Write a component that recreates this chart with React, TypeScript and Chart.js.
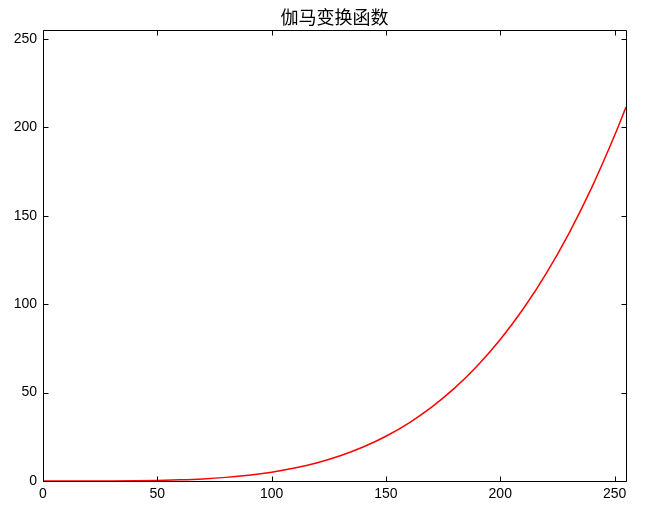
import React, { useEffect, useRef } from "react";
import { Chart, registerables } from "chart.js";

Chart.register(...registerables);

const TITLE = "伽马变换函数";
const xValues = [0, 10, 20, 30, 40, 50, 60, 70, 80, 90, 100, 110, 120, 130, 140, 150, 160, 170, 180, 190, 200, 210, 220, 230, 240, 250, 255];
const yValues = [0, 0, 0.01, 0.04, 0.13, 0.31, 0.65, 1.2, 2.05, 3.28, 5.0, 7.32, 10.37, 14.28, 19.21, 25.31, 32.77, 41.76, 52.49, 65.16, 80.0, 97.24, 117.13, 139.92, 165.89, 195.31, 211.4];
const xTicks = [0, 50, 100, 150, 200, 250];
const yTicks = [0, 50, 100, 150, 200, 250];
const X_MAX = 255;
const Y_MAX = 255;

const TICK_FONT = { family: "'Liberation Sans', Arial, sans-serif", size: 14 };

const framePlugin = {
  id: "framePlugin",
  afterDraw(chart: any) {
    const { ctx, chartArea } = chart;
    const { left, right, top, bottom } = chartArea;
    const xs = chart.scales.x;
    const ys = chart.scales.y;
    ctx.save();
    ctx.strokeStyle = "#000";
    ctx.lineWidth = 1;
    ctx.beginPath();
    const L = Math.round(left) + 0.5;
    const R = Math.round(right) + 0.5;
    const T = Math.round(top) + 0.5;
    const B = Math.round(bottom) + 0.5;
    ctx.rect(L, T, R - L, B - T);
    const len = 5;
    xTicks.forEach((v) => {
      const px = Math.round(xs.getPixelForValue(v)) + 0.5;
      ctx.moveTo(px, B);
      ctx.lineTo(px, B - len);
      ctx.moveTo(px, T);
      ctx.lineTo(px, T + len);
    });
    yTicks.forEach((v) => {
      const py = Math.round(ys.getPixelForValue(v)) + 0.5;
      ctx.moveTo(L, py);
      ctx.lineTo(L + len, py);
      ctx.moveTo(R, py);
      ctx.lineTo(R - len, py);
    });
    ctx.stroke();
    ctx.fillStyle = "#000";
    ctx.font = "18px 'Noto Sans CJK SC', sans-serif";
    ctx.textAlign = "center";
    ctx.textBaseline = "middle";
    ctx.fillText(TITLE, (left + right) / 2, 17);
    ctx.restore();
  },
};

export default function App() {
  const ref = useRef<HTMLCanvasElement>(null);
  useEffect(() => {
    if (!ref.current) return;
    const chart = new Chart(ref.current, {
      type: "line",
      data: {
        datasets: [
          {
            data: xValues.map((x, i) => ({ x, y: yValues[i] })),
            borderColor: "#ff0000",
            borderWidth: 1.5,
            pointRadius: 0,
            fill: false,
            cubicInterpolationMode: "monotone",
          },
        ],
      },
      options: {
        animation: false,
        responsive: false,
        devicePixelRatio: 1,
        layout: { padding: { top: 30, right: 32, left: 0, bottom: 0 } },
        plugins: { legend: { display: false }, title: { display: false }, tooltip: { enabled: false } },
        scales: {
          x: {
            type: "linear",
            min: 0,
            max: X_MAX,
            grid: { display: false, drawTicks: false },
            border: { display: false },
            afterBuildTicks: (s: any) => {
              s.ticks = xTicks.map((v) => ({ value: v }));
            },
            afterFit: (s: any) => {
              s.height = 32;
            },
            ticks: { color: "#000", font: TICK_FONT, padding: 5, maxRotation: 0, autoSkip: false },
          },
          y: {
            type: "linear",
            min: 0,
            max: Y_MAX,
            grid: { display: false, drawTicks: false },
            border: { display: false },
            afterBuildTicks: (s: any) => {
              s.ticks = yTicks.map((v) => ({ value: v }));
            },
            afterFit: (s: any) => {
              s.width = 43;
            },
            ticks: { color: "#000", font: TICK_FONT, padding: 6, autoSkip: false },
          },
        },
      },
      plugins: [framePlugin],
    });
    return () => chart.destroy();
  }, []);
  return (
    <div style={{ position: "absolute", left: 0, top: 0, width: 658, height: 513, background: "#fff" }}>
      <canvas ref={ref} width={658} height={513} style={{ display: "block" }} />
    </div>
  );
}
